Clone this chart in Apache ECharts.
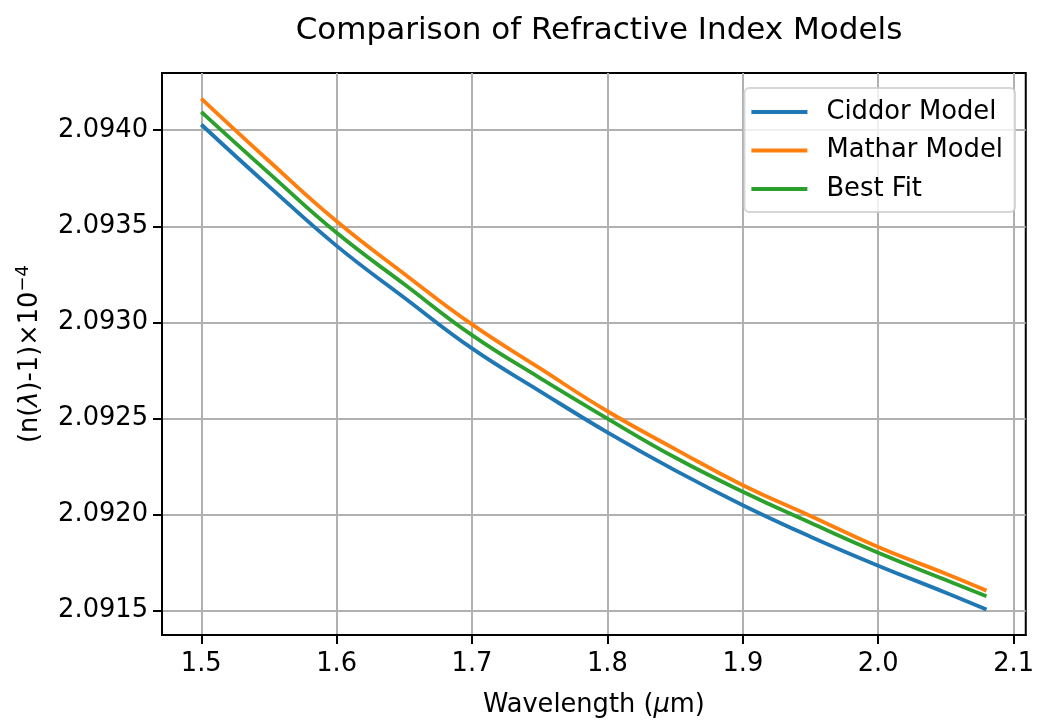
<!DOCTYPE html>
<html>
<head>
<meta charset="utf-8">
<script src="https://cdn.jsdelivr.net/npm/echarts@6/dist/echarts.min.js"></script>
<style>
html,body{margin:0;padding:0;background:#fff;}
#chart{width:1037px;height:723px;}
</style>
</head>
<body>
<div id="chart"></div>
<script>
// Data
const wavelengths = [1.5, 1.55, 1.6, 1.65, 1.7, 1.75, 1.8, 1.85, 1.9, 1.95, 2.0, 2.05, 2.08];
const ciddor  = [2.094030, 2.093708, 2.093398, 2.093128, 2.092864, 2.092642, 2.092427, 2.092229, 2.092048, 2.091884, 2.091733, 2.091592, 2.091505];
const mathar  = [2.094165, 2.093840, 2.093526, 2.093252, 2.092989, 2.092761, 2.092537, 2.092340, 2.092152, 2.091992, 2.091830, 2.091691, 2.091603];
const bestFit = [2.094096, 2.093777, 2.093466, 2.093198, 2.092933, 2.092711, 2.092499, 2.092296, 2.092118, 2.091956, 2.091800, 2.091658, 2.091574];
const seriesNames = ['Ciddor Model', 'Mathar Model', 'Best Fit'];
const xTicks = [1.5, 1.6, 1.7, 1.8, 1.9, 2.0, 2.1];
const yTicks = [2.0915, 2.0920, 2.0925, 2.0930, 2.0935, 2.0940];

const FONT = 'DejaVu Sans';
const colors = ['#1f77b4', '#ff7f0e', '#2ca02c'];
const allData = [ciddor, mathar, bestFit];

const chart = echarts.init(document.getElementById('chart'), null, {renderer: 'canvas'});
const option = {
  animation: false,
  backgroundColor: '#ffffff',
  textStyle: {fontFamily: FONT, color: '#000'},
  title: {
    text: 'Comparison of Refractive Index Models',
    left: 594,
    textAlign: 'center',
    top: 10,
    textStyle: {fontFamily: FONT, fontSize: 31, fontWeight: 'normal', color: '#000'}
  },
  grid: {
    left: 162, right: 9, top: 73, bottom: 87,
    show: true, borderColor: '#000', borderWidth: 2, backgroundColor: 'transparent'
  },
  legend: {
    orient: 'vertical',
    right: 22,
    top: 88,
    align: 'left',
    itemWidth: 56,
    itemHeight: 4,
    itemGap: 12.5,
    padding: [11, 12, 10, 7],
    backgroundColor: 'rgba(255,255,255,0.8)',
    borderColor: 'rgba(204,204,204,0.8)',
    borderWidth: 2,
    borderRadius: 5,
    textStyle: {fontFamily: FONT, fontSize: 25.8, color: '#000', padding: [0, 0, 0, 14]},
    data: seriesNames.map(n => ({name: n, icon: 'rect'}))
  },
  xAxis: {
    type: 'value',
    min: 1.471,
    max: 2.109,
    name: 'Wavelength ({it|μ}m)',
    nameLocation: 'middle',
    nameGap: 57,
    nameTextStyle: {fontFamily: FONT, fontSize: 25.7, color: '#000',
      rich: {it: {fontFamily: FONT, fontSize: 25.7, fontStyle: 'italic', color: '#000'}}},
    axisLine: {show: true, lineStyle: {color: '#000', width: 2}},
    axisTick: {show: true, inside: false, length: 9, lineStyle: {color: '#000', width: 2}, customValues: xTicks},
    axisLabel: {show: true, margin: 16, fontFamily: FONT, fontSize: 25.7, color: '#000',
      customValues: xTicks, formatter: v => Number(v).toFixed(1)},
    splitLine: {show: true, lineStyle: {color: '#b0b0b0', width: 2}}
  },
  yAxis: {
    type: 'value',
    min: 2.091372,
    max: 2.094298,
    scale: true,
    name: '(n({it|λ})-1)×10{sup|−4}',
    nameLocation: 'middle',
    nameGap: 116,
    nameRotate: 90,
    nameTextStyle: {fontFamily: FONT, fontSize: 25.7, color: '#000',
      rich: {
        it: {fontFamily: FONT, fontSize: 25.7, fontStyle: 'italic', color: '#000'},
        sup: {fontFamily: FONT, fontSize: 18, color: '#000', verticalAlign: 'top', padding: [0, 0, 14, 0]}
      }},
    axisLine: {show: true, lineStyle: {color: '#000', width: 2}},
    axisTick: {show: true, inside: false, length: 9, lineStyle: {color: '#000', width: 2}, customValues: yTicks},
    axisLabel: {show: true, margin: 14, fontFamily: FONT, fontSize: 25.7, color: '#000',
      customValues: yTicks, formatter: v => Number(v).toFixed(4)},
    splitLine: {show: true, lineStyle: {color: '#b0b0b0', width: 2}}
  },
  series: seriesNames.map((name, k) => ({
    name: name,
    type: 'line',
    showSymbol: false,
    smooth: 0.45,
    color: colors[k],
    lineStyle: {color: colors[k], width: 3.85},
    data: wavelengths.map((x, i) => [x, allData[k][i]]),
    z: 3 + k
  }))
};
chart.setOption(option);
</script>
</body>
</html>
